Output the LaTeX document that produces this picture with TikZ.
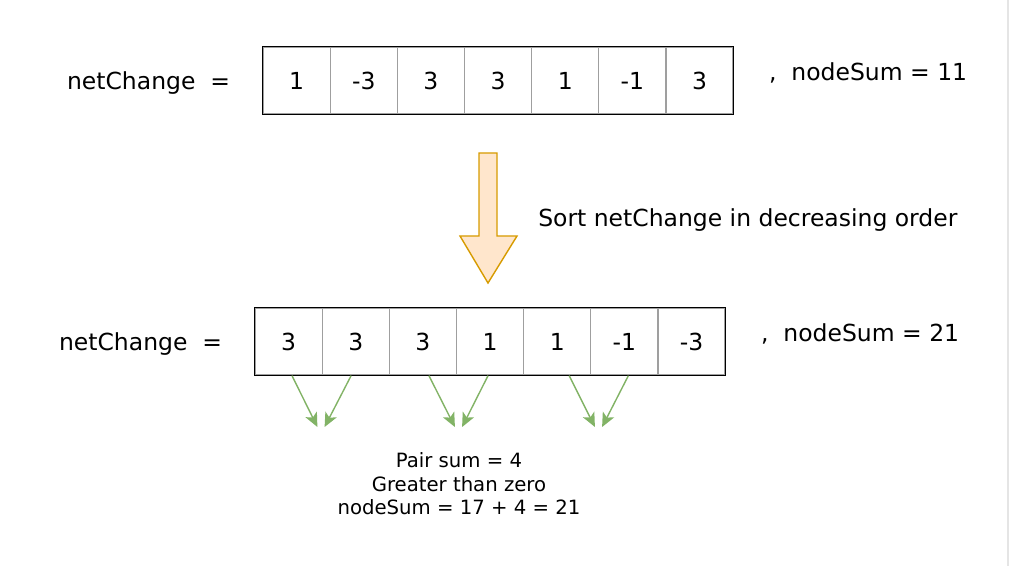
\documentclass[tikz,border=0pt]{standalone}
\usepackage{fontspec}
\setmainfont{DejaVu Sans}
\usetikzlibrary{positioning, arrows.meta}
\usepackage{xcolor}
\definecolor{myorange}{HTML}{D79B00}
\definecolor{mypeach}{HTML}{FFE6CC}
\definecolor{mygreen}{HTML}{82B366}
\newcommand{\NetLhs}{netChange\ \ =}

\begin{document}
\begin{tikzpicture}[>={Stealth[length=10pt,width=9pt,inset=2.5pt]},
  cell/.style={draw=gray!75, line width=0.9pt, minimum width=1.679cm, minimum height=1.675cm, inner sep=0pt, font=\fontsize{16.7}{20}\selectfont},
  txt/.style={font=\fontsize{16.7}{20}\selectfont, inner sep=0pt},
  pair/.style={->, mygreen, line width=1pt}]
  \useasboundingbox (0,0) rectangle (25.225,-14.15);
  \draw[gray!20, line width=1.5pt] (25.2,0) -- (25.2,-14.15);

  % netChange before sorting
  \foreach \v [count=\i] in {1,-3,3,3,1,-1,3}
    \node[cell] (t\i) at ({7.4145+(\i-1)*1.679}, -2.0125) {\v};
  \draw[line width=1pt] (t1.north west) rectangle (t7.south east);
  \node[txt, left=0.8cm of t1, yshift=-0.07cm]   (lhsTop) {\NetLhs};
  \node[txt, right=0.875cm of t7, yshift=0.18cm] (sumTop) {,\ \ nodeSum = 11};

  % sort arrow
  \draw[myorange, fill=mypeach, line width=1pt] (11.975,-3.825) -- (12.425,-3.825) -- (12.425,-5.9)
    -- (12.925,-5.9) -- (12.2,-7.075) -- (11.5,-5.9) -- (11.975,-5.9) -- cycle;
  \node[txt, anchor=west] (sortText) at (13.45,-5.5) {Sort netChange in decreasing order};

  % netChange after sorting
  \foreach \v [count=\i] in {3,3,3,1,1,-1,-3}
    \node[cell] (b\i) at ({7.2145+(\i-1)*1.679}, -8.5375) {\v};
  \draw[line width=1pt] (b1.north west) rectangle (b7.south east);
  \node[txt, left=0.8cm of b1, yshift=-0.07cm]   (lhsBot) {\NetLhs};
  \node[txt, right=0.875cm of b7, yshift=0.18cm] (sumBot) {,\ \ nodeSum = 21};

  % pairs
  \foreach \i/\j/\x/\s in {1/2/8.025/-0.015, 3/4/11.4625/0.05, 5/6/14.9625/0.2} {
    \coordinate (m\i) at (\x-0.09,-10.675);
    \coordinate (m\j) at (\x+0.09,-10.675);
    \draw[pair] ([xshift=\s cm+0.1cm]b\i.south) -- (m\i);
    \draw[pair] ([xshift=\s cm-0.1cm]b\j.south) -- (m\j);
  }
  \node[font=\fontsize{14}{16.7}\selectfont, align=center] (note) at (11.475,-12.1)
    {Pair sum = 4\\Greater than zero\\nodeSum = 17 + 4 = 21};
\end{tikzpicture}
\end{document}
